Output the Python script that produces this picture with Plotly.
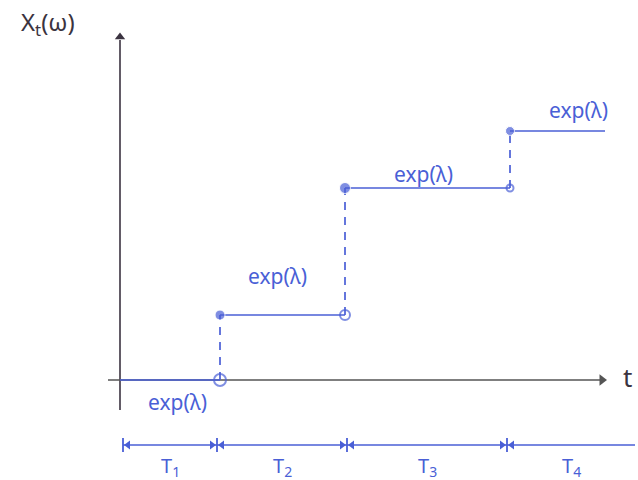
import plotly.graph_objects as go

# Sample path of a counting process: jump times and the level held after each jump
jump_times = [1.0, 2.25, 3.9]
levels = [0.0, 0.65, 1.92, 2.49]
t_start = 0.0
t_end = 4.85

# Inter-arrival intervals shown under the time axis
interval_edges = [0.03, 0.97, 2.27, 3.87, 5.15]
interval_labels = ["T<sub>1</sub>", "T<sub>2</sub>", "T<sub>3</sub>", "T<sub>4</sub>"]
segment_label = "exp(λ)"

BLUE = "#4a5fd6"
INK = "#3b3340"
FONT = "Noto Sans"

fig = go.Figure()

# Axes: plain lines ending in triangular arrowheads
fig.add_trace(go.Scatter(x=[0, 0], y=[-0.3, 3.4], mode="lines",
                         line=dict(color=INK, width=1.6), hoverinfo="skip"))
fig.add_trace(go.Scatter(x=[0], y=[3.43], mode="markers",
                         marker=dict(symbol="triangle-up", size=9, color=INK),
                         hoverinfo="skip"))
fig.add_trace(go.Scatter(x=[-0.12, 4.8], y=[0, 0], mode="lines",
                         line=dict(color="#555", width=1.3), hoverinfo="skip"))
fig.add_trace(go.Scatter(x=[4.82], y=[0], mode="markers",
                         marker=dict(symbol="triangle-right", size=10, color="#555"),
                         hoverinfo="skip"))

# Horizontal pieces of the step path
starts = [t_start] + jump_times
ends = jump_times + [t_end]
for a, b, lv in zip(starts, ends, levels):
    fig.add_trace(go.Scatter(x=[a, b], y=[lv, lv], mode="lines",
                             line=dict(color=BLUE, width=1.7), hoverinfo="skip"))

# Dashed vertical jumps
for t, lo, hi in zip(jump_times, levels[:-1], levels[1:]):
    fig.add_trace(go.Scatter(x=[t, t], y=[lo, hi], mode="lines",
                             line=dict(color=BLUE, width=1.7, dash="8px,7px"),
                             hoverinfo="skip"))

# Open circles (left limits) and filled dots (values at jump times)
fig.add_trace(go.Scatter(x=jump_times, y=levels[:-1], mode="markers",
                         marker=dict(symbol="circle-open", size=[12, 10, 7],
                                     color=BLUE, line=dict(width=2)),
                         hoverinfo="skip"))
fig.add_trace(go.Scatter(x=jump_times, y=levels[1:], mode="markers",
                         marker=dict(symbol="circle", size=[10, 11, 9], color=BLUE),
                         hoverinfo="skip"))

# Double-headed arrows for the inter-arrival intervals
row = -0.65
fig.add_trace(go.Scatter(x=[interval_edges[0], interval_edges[-1]], y=[row, row],
                         mode="lines", line=dict(color=BLUE, width=1.3),
                         hoverinfo="skip"))
head = 0.05
left_heads = [e + head for e in interval_edges[:-1]]
right_heads = [e - head for e in interval_edges[1:-1]]
fig.add_trace(go.Scatter(x=left_heads, y=[row] * len(left_heads), mode="markers",
                         marker=dict(symbol="triangle-left", size=8, color=BLUE),
                         hoverinfo="skip"))
fig.add_trace(go.Scatter(x=right_heads, y=[row] * len(right_heads), mode="markers",
                         marker=dict(symbol="triangle-right", size=8, color=BLUE),
                         hoverinfo="skip"))
for e in interval_edges[:-1]:
    fig.add_shape(type="line", x0=e, x1=e, y0=row - 0.07, y1=row + 0.07,
                  xref="x", yref="y", line=dict(color=BLUE, width=1.8))
for i, (a, b) in enumerate(zip(interval_edges[:-1], interval_edges[1:])):
    fig.add_annotation(x=(a + b) / 2, y=row - 0.21, xref="x", yref="y",
                       text=interval_labels[i], showarrow=False,
                       font=dict(family=FONT, size=20, color=BLUE))

# Axis labels
fig.add_annotation(x=-0.72, y=3.57, xref="x", yref="y", text="X<sub>t</sub>(ω)",
                   showarrow=False, font=dict(family=FONT, size=24, color=INK))
fig.add_annotation(x=5.07, y=0.03, xref="x", yref="y", text="t",
                   showarrow=False, font=dict(family=FONT, size=26, color=INK))

# Labels for the holding times
label_pos = [(0.57, -0.22), (1.57, 1.04), (3.03, 2.06), (4.58, 2.7)]
for (x, y) in label_pos:
    fig.add_annotation(x=x, y=y, xref="x", yref="y", text=segment_label,
                       showarrow=False, font=dict(family=FONT, size=21, color=BLUE))

fig.update_layout(
    width=638, height=480,
    margin=dict(l=0, r=0, t=0, b=0),
    paper_bgcolor="white", plot_bgcolor="white",
    showlegend=False,
    xaxis=dict(range=[-1.2, 5.18], visible=False, fixedrange=True),
    yaxis=dict(range=[-1.0, 3.8], visible=False, fixedrange=True),
)

fig.write_html("out.html")
